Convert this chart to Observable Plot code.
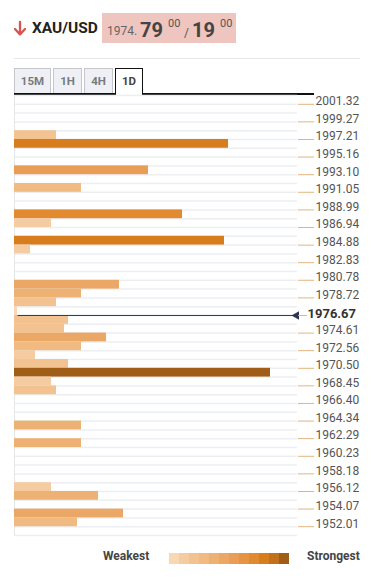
<!DOCTYPE html>
<html>
<head>
<meta charset="utf-8">
<script src="https://cdn.jsdelivr.net/npm/d3@7"></script>
<script src="https://cdn.jsdelivr.net/npm/@observablehq/plot@0.6"></script>
<style>
  html, body { margin: 0; padding: 0; background: #fff; }
  body { font-family: Roboto, "Open Sans", sans-serif; }
  #page { position: relative; width: 381px; height: 582px; overflow: hidden; }
  .abs { position: absolute; }
  .pair { color: #222; font-weight: 700; font-size: 15.5px; left: 32px; top: 19px; }
  .pricebox { left: 102px; top: 13px; width: 134px; height: 30px; background: #efc5bf; }
  .pbtxt { position: absolute; top: 0; left: 0; width: 134px; height: 30px; color: #555; white-space: nowrap; }
  .sep { left: 14px; top: 58px; width: 346px; height: 1px; background: #e6e6e8; }
  .tab { top: 68px; height: 25px; box-sizing: border-box; border: 1px solid #c6c6cc; border-bottom: none; background: #eef0f5; color: #7a7a80; font-weight: 700; font-size: 11.5px; text-align: center; line-height: 25px; }
  .tab.active { background: #fff; border: 1.5px solid #111; border-bottom: none; color: #444; height: 27px; }
  .tabline { top: 93px; height: 1.5px; background: #111; }
  .leg { font-weight: 700; font-size: 12px; color: #444; top: 549px; }
</style>
</head>
<body>
<div id="page">
  <svg class="abs" style="left:12px;top:20px" width="16" height="17" viewBox="0 0 16 17">
    <path d="M8 2 V14 M3 9 L8 14.5 L13 9" fill="none" stroke="#d9534f" stroke-width="2.3" stroke-linecap="round" stroke-linejoin="round"/>
  </svg>
  <div class="abs pair">XAU/USD</div>
  <div class="abs pricebox">
    <span class="abs" style="left:5px;top:11px;font-size:12px;color:#666">1974.</span>
    <span class="abs" style="left:38px;top:5px;font-size:20px;font-weight:700;color:#444">79</span>
    <span class="abs" style="left:66px;top:4px;font-size:11px;color:#555">00</span>
    <span class="abs" style="left:82px;top:13px;font-size:12px;color:#555">/</span>
    <span class="abs" style="left:90px;top:5px;font-size:20px;font-weight:700;color:#444">19</span>
    <span class="abs" style="left:118px;top:4px;font-size:11px;color:#555">00</span>
  </div>
  <div class="abs sep"></div>
  <div class="abs tabline" style="left:14px;width:102px"></div>
  <div class="abs tabline" style="left:142px;width:172px"></div>
  <div class="abs tab" style="left:14px;width:37px">15M</div>
  <div class="abs tab" style="left:53px;width:29px">1H</div>
  <div class="abs tab" style="left:84px;width:29px">4H</div>
  <div class="abs tab active" style="left:115px;width:28px">1D</div>
  <div id="chart" class="abs" style="left:0;top:95px"></div>
  <div class="abs leg" style="left:103px">Weakest</div>
  <div id="legend" class="abs" style="left:168px;top:553px"></div>
  <div class="abs leg" style="left:307px">Strongest</div>
</div>
<script>
// Price levels shown on the right axis
const ticks = [2001.32, 1999.27, 1997.21, 1995.16, 1993.10, 1991.05, 1988.99, 1986.94, 1984.88,
  1982.83, 1980.78, 1978.72, 1976.67, 1974.61, 1972.56, 1970.50, 1968.45, 1966.40, 1964.34,
  1962.29, 1960.23, 1958.18, 1956.12, 1954.07, 1952.01];
const currentPrice = 1976.67;

// Confluence bars: price level (row centre), strength, colour level (0 weakest .. 11 strongest)
const barPrice = [1997.72, 1996.70, 1993.62, 1991.56, 1988.48, 1987.45, 1985.40, 1984.37,
  1980.26, 1979.23, 1978.21, 1977.18, 1976.15, 1975.12, 1974.10, 1973.07, 1972.04, 1971.01,
  1969.99, 1968.96, 1967.93, 1963.82, 1961.77, 1956.63, 1955.61, 1953.55, 1952.52];
const barStrength = [42, 214, 134, 67, 168, 37, 210, 16,
  105, 67, 42, 3, 54, 50, 92, 67, 21, 54,
  256, 37, 42, 67, 67, 37, 84, 109, 63];
const barLevel = [2, 9, 6, 3, 8, 1, 9, 1,
  5, 4, 2, 0, 2, 2, 5, 3, 1, 2,
  11, 1, 2, 4, 4, 1, 4, 5, 3];

const palette = ["#f8d7b3", "#f5cca1", "#f2c391", "#f0ba81", "#edb273", "#eba765",
  "#e99d55", "#e69343", "#e28a30", "#d87d1d", "#c2701a", "#a05d17"];

const step = (ticks[0] - ticks[ticks.length - 1]) / ((ticks.length - 1) * 2);
const yTop = ticks[0] + step;
const yBottom = ticks[ticks.length - 1] - step;
const rowEdges = d3.range(0, 51).map(j => yTop - j * step);

const bars = barPrice.map((p, i) => ({price: p, strength: barStrength[i], level: barLevel[i]}));
const normalTicks = ticks.filter(t => t !== currentPrice);

const chart = Plot.plot({
  width: 381,
  height: 440,
  marginLeft: 14,
  marginRight: 84,
  marginTop: 0,
  marginBottom: 0,
  style: {fontFamily: "Roboto, sans-serif", background: "transparent", overflow: "visible"},
  x: {domain: [0, 283], axis: null},
  y: {domain: [yBottom, yTop]},
  color: {type: "ordinal", domain: d3.range(12), range: palette},
  marks: [
    Plot.ruleY(rowEdges, {stroke: "#eceef2", strokeWidth: 1.5}),
    Plot.ruleX([0], {stroke: "#e4e6ea"}),
    Plot.rect(bars, {x1: 0, x2: "strength", y1: d => d.price - step / 2, y2: d => d.price + step / 2, fill: "level"}),
    Plot.ruleY([currentPrice], {x1: 3.5, x2: 282, stroke: "#2b3650", strokeWidth: 1}),
    Plot.dot([currentPrice], {x: 282, y: d => d, symbol: "triangle", rotate: -90, r: 3.2, fill: "#2b3650"}),
    Plot.axisY(normalTicks, {anchor: "right", tickSize: 16, stroke: "#e2b47e", fill: "none", label: null}),
    Plot.axisY(normalTicks, {anchor: "right", tickSize: 0, tickPadding: 18, stroke: "none", fill: "#555",
      fontSize: 12, dy: -3, tickFormat: d => d.toFixed(2), label: null}),
    Plot.axisY([currentPrice], {anchor: "right", tickSize: 9, stroke: "#e2b47e", fill: "none", label: null}),
    Plot.axisY([currentPrice], {anchor: "right", tickSize: 0, tickPadding: 10, stroke: "none", fill: "#333",
      fontSize: 13, fontWeight: "bold", dy: -2, tickFormat: d => d.toFixed(2), label: null})
  ]
});
document.getElementById("chart").appendChild(chart);

const legend = Plot.plot({
  width: 121,
  height: 11,
  margin: 0,
  x: {type: "band", domain: d3.range(12), padding: 0, axis: null},
  color: {type: "ordinal", domain: d3.range(12), range: palette},
  marks: [Plot.cell(d3.range(12), {x: d => d, fill: d => d})]
});
document.getElementById("legend").appendChild(legend);
</script>
</body>
</html>
